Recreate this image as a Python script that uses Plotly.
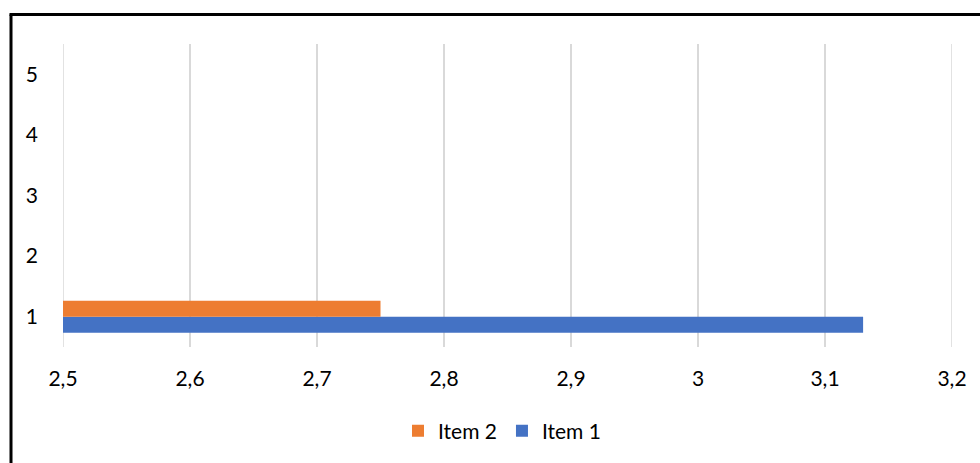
import plotly.graph_objects as go

categories = [1, 2, 3, 4, 5]
item1_values = [3.13, None, None, None, None]
item2_values = [2.75, None, None, None, None]
x_tick_values = [2.5, 2.6, 2.7, 2.8, 2.9, 3.0, 3.1, 3.2]
x_tick_labels = ["2,5", "2,6", "2,7", "2,8", "2,9", "3", "3,1", "3,2"]
y_tick_labels = ["1", "2", "3", "4", "5"]

fig = go.Figure()
fig.add_trace(go.Bar(y=categories, x=item1_values, name="Item 1", orientation="h",
                     marker=dict(color="#4472C4", line=dict(width=0))))
fig.add_trace(go.Bar(y=categories, x=item2_values, name="Item 2", orientation="h",
                     marker=dict(color="#ED7D31", line=dict(width=0))))

L, R, T, B = 63, 28, 44, 116
W, H = 980, 463
pw, ph = W - L - R, H - T - B
px = lambda p: (p - L) / pw
py = lambda p: (H - B - p) / ph

grid_edges = [dict(type="line", xref="x", yref="paper", x0=v, x1=v, y0=0, y1=1,
                   layer="below", line=dict(color="#D9D9D9", width=1.5))
              for v in (x_tick_values[0], x_tick_values[-1])]

fig.update_layout(
    width=W, height=H,
    margin=dict(l=L, r=R, t=T, b=B, pad=0),
    paper_bgcolor="white", plot_bgcolor="white",
    barmode="group", bargap=0.47, bargroupgap=0,
    font=dict(family="Lato, sans-serif", size=21, color="#000000"),
    showlegend=True,
    legend=dict(orientation="h", traceorder="reversed", x=px(502), xanchor="center",
                y=py(431), yanchor="middle", font=dict(size=21),
                itemwidth=30, itemclick=False, tracegroupgap=0),
    xaxis=dict(range=[2.5, 3.2], tickvals=x_tick_values, ticktext=x_tick_labels,
               showgrid=True, gridcolor="#D9D9D9", gridwidth=1.5, zeroline=False,
               showline=False, ticks="", ticklabelstandoff=17, fixedrange=True),
    yaxis=dict(range=[0.5, 5.5], tickvals=categories, ticktext=y_tick_labels,
               showgrid=False, zeroline=False, showline=False, ticks="",
               ticklabelstandoff=24, fixedrange=True),
    shapes=grid_edges + [
        dict(type="line", xref="paper", yref="paper", x0=px(11), x1=px(11),
             y0=py(14.5), y1=py(470), line=dict(color="black", width=3)),
        dict(type="line", xref="paper", yref="paper", x0=px(9.5), x1=px(990),
             y0=py(14.5), y1=py(14.5), line=dict(color="black", width=3)),
    ],
)

fig.write_html("out.html")
